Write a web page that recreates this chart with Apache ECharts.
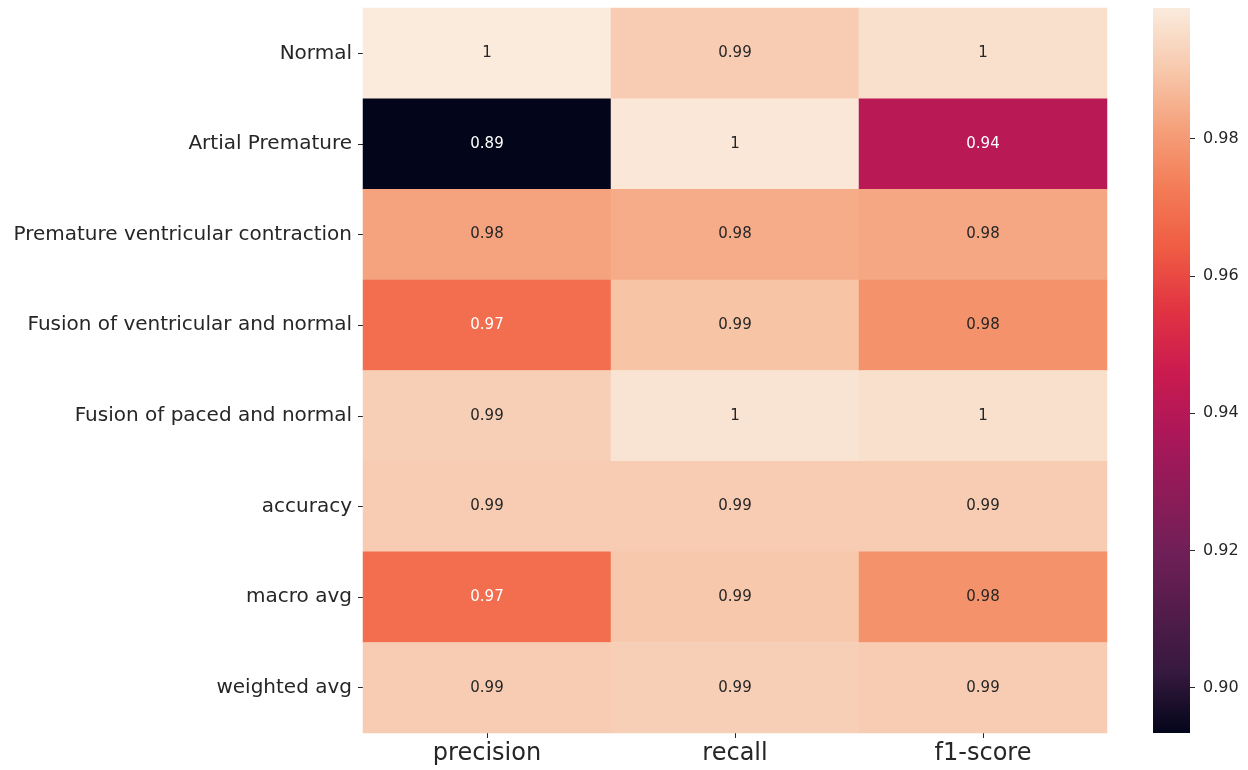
<!DOCTYPE html>
<html>
<head>
<meta charset="utf-8">
<script src="https://cdn.jsdelivr.net/npm/echarts@6/dist/echarts.min.js"></script>
<style>
  html, body { margin: 0; padding: 0; background: #fff; }
  #chart { width: 1248px; height: 770px; }
</style>
</head>
<body>
<div id="chart"></div>
<script>
// Classification report scores per class
const rowLabels = [
  'Normal',
  'Artial Premature',
  'Premature ventricular contraction',
  'Fusion of ventricular and normal',
  'Fusion of paced and normal',
  'accuracy',
  'macro avg',
  'weighted avg'
];
const colLabels = ['precision', 'recall', 'f1-score'];

const precision = [0.999, 0.8934, 0.982, 0.969, 0.992, 0.991, 0.969, 0.991];
const recall    = [0.991, 0.998, 0.984, 0.989, 0.997, 0.991, 0.990, 0.992];
const f1Score   = [0.996, 0.941, 0.983, 0.978, 0.996, 0.991, 0.978, 0.991];

const colorbarTicks = [0.90, 0.92, 0.94, 0.96, 0.98];

// "rocket" colormap control points (position, colour)
const rocketStops = [
  [0.000, '#03051a'],
  [0.083, '#35193e'],
  [0.250, '#701f57'],
  [0.417, '#ad1759'],
  [0.500, '#cb1b4f'],
  [0.583, '#e13342'],
  [0.667, '#ef5b43'],
  [0.750, '#f37b56'],
  [0.833, '#f5a07a'],
  [0.917, '#f7c9ad'],
  [1.000, '#faebdd']
];

function hexToRgb(h) {
  return [parseInt(h.slice(1, 3), 16), parseInt(h.slice(3, 5), 16), parseInt(h.slice(5, 7), 16)];
}
function rgbToHex(c) {
  return '#' + c.map(v => Math.round(v).toString(16).padStart(2, '0')).join('');
}
function rocketAt(p) {
  p = Math.max(0, Math.min(1, p));
  for (let i = 1; i < rocketStops.length; i++) {
    const [p1, c1] = rocketStops[i];
    const [p0, c0] = rocketStops[i - 1];
    if (p <= p1) {
      const t = (p - p0) / (p1 - p0);
      const a = hexToRgb(c0), b = hexToRgb(c1);
      return rgbToHex(a.map((v, k) => v + (b[k] - v) * t));
    }
  }
  return rocketStops[rocketStops.length - 1][1];
}
// evenly sampled palette for the visualMap
const palette = [];
for (let i = 0; i <= 100; i++) palette.push(rocketAt(i / 100));

function luminance(hex) {
  const lin = hexToRgb(hex).map(v => {
    const c = v / 255;
    return c <= 0.03928 ? c / 12.92 : Math.pow((c + 0.055) / 1.055, 2.4);
  });
  return 0.2126 * lin[0] + 0.7152 * lin[1] + 0.0722 * lin[2];
}

const columns = [precision, recall, f1Score];
const allValues = columns.flat();
const vmin = Math.min(...allValues);
const vmax = Math.max(...allValues);

function fmt2g(v) {
  return String(Number(v.toPrecision(2)));
}

const cells = [];
columns.forEach((col, ci) => {
  col.forEach((v, ri) => {
    const bg = rocketAt((v - vmin) / (vmax - vmin));
    cells.push({
      value: [ci, ri, v],
      label: { color: luminance(bg) > 0.408 ? '#262626' : '#ffffff' }
    });
  });
});

const FONT = '"DejaVu Sans", sans-serif';

const chart = echarts.init(document.getElementById('chart'), null, { renderer: 'canvas' });
chart.setOption({
  animation: false,
  backgroundColor: '#ffffff',
  textStyle: { fontFamily: FONT },
  grid: [
    { left: 363, right: 141, top: 8, bottom: 37 },
    { left: 1153, width: 37, top: 8, bottom: 37 }
  ],
  xAxis: [
    {
      type: 'category',
      gridIndex: 0,
      data: colLabels,
      axisLine: { show: false },
      axisTick: { show: true, alignWithLabel: true, length: 5, lineStyle: { color: '#262626' } },
      axisLabel: { fontSize: 24, color: '#262626', fontFamily: FONT, margin: 9 },
      splitLine: { show: false }
    },
    {
      type: 'category',
      gridIndex: 1,
      data: [''],
      show: false
    }
  ],
  yAxis: [
    {
      type: 'category',
      gridIndex: 0,
      data: rowLabels,
      inverse: true,
      axisLine: { show: false },
      axisTick: { show: true, alignWithLabel: true, length: 5, lineStyle: { color: '#262626' } },
      axisLabel: { fontSize: 20, color: '#262626', fontFamily: FONT, margin: 11 },
      splitLine: { show: false }
    },
    {
      type: 'value',
      gridIndex: 1,
      position: 'right',
      min: vmin,
      max: vmax,
      axisLine: { show: false },
      axisTick: {
        show: true, length: 5, customValues: colorbarTicks,
        lineStyle: { color: '#262626' }
      },
      axisLabel: {
        fontSize: 16, color: '#262626', fontFamily: FONT, margin: 13,
        customValues: colorbarTicks,
        formatter: v => v.toFixed(2)
      },
      splitLine: { show: false }
    }
  ],
  visualMap: {
    show: false,
    type: 'continuous',
    seriesIndex: 0,
    dimension: 2,
    min: vmin,
    max: vmax,
    inRange: { color: palette }
  },
  series: [
    {
      type: 'heatmap',
      xAxisIndex: 0,
      yAxisIndex: 0,
      data: cells,
      label: {
        show: true,
        fontSize: 15,
        fontFamily: FONT,
        formatter: p => fmt2g(p.value[2])
      },
      itemStyle: { borderWidth: 0 },
      emphasis: { disabled: true }
    },
    {
      // colour bar, drawn on its own value axis
      type: 'custom',
      xAxisIndex: 1,
      yAxisIndex: 1,
      data: [[0, vmin, vmax]],
      silent: true,
      renderItem: function (params, api) {
        const top = api.coord([0, api.value(2)]);
        const bottom = api.coord([0, api.value(1)]);
        const w = api.size([1, 0])[0];
        return {
          type: 'rect',
          shape: { x: top[0] - w / 2, y: top[1], width: w, height: bottom[1] - top[1] },
          style: {
            fill: {
              type: 'linear', x: 0, y: 1, x2: 0, y2: 0,
              colorStops: rocketStops.map(s => ({ offset: s[0], color: s[1] }))
            }
          }
        };
      }
    }
  ]
});
</script>
</body>
</html>
